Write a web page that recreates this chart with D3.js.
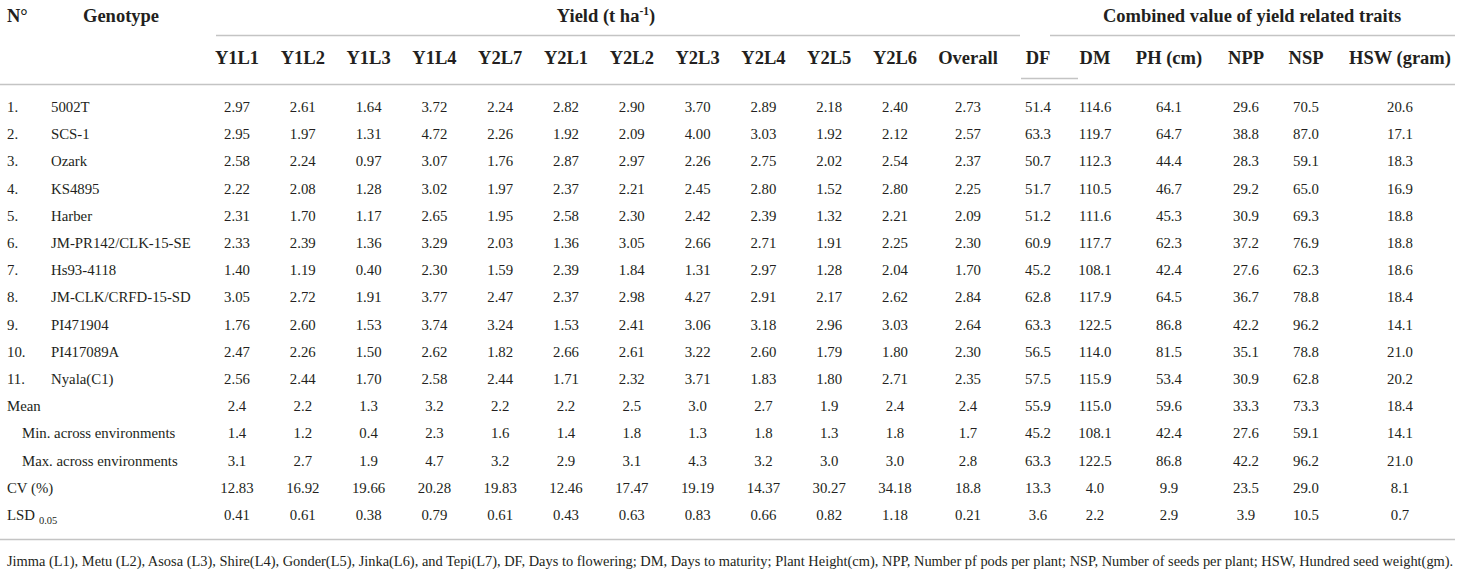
<!DOCTYPE html>
<html>
<head>
<meta charset="utf-8">
<script src="https://cdn.jsdelivr.net/npm/d3@7"></script>
<style>
  body { margin: 0; background: #fff; }
  svg text { font-family: "Liberation Serif", "Times New Roman", serif; fill: #231f20; }
</style>
</head>
<body>
<svg id="table"></svg>
<script>
// column headers
var yieldCols = ["Y1L1", "Y1L2", "Y1L3", "Y1L4", "Y2L7", "Y2L1", "Y2L2", "Y2L3", "Y2L4", "Y2L5", "Y2L6", "Overall"];
var traitCols = ["DF", "DM", "PH (cm)", "NPP", "NSP", "HSW (gram)"];

// genotypes
var genotypes = ["5002T", "SCS-1", "Ozark", "KS4895", "Harber", "JM-PR142/CLK-15-SE", "Hs93-4118",
  "JM-CLK/CRFD-15-SD", "PI471904", "PI417089A", "Nyala(C1)"];

// yield (t/ha) per genotype, kept as printed
var yieldValues = [
  ["2.97", "2.61", "1.64", "3.72", "2.24", "2.82", "2.90", "3.70", "2.89", "2.18", "2.40", "2.73"],
  ["2.95", "1.97", "1.31", "4.72", "2.26", "1.92", "2.09", "4.00", "3.03", "1.92", "2.12", "2.57"],
  ["2.58", "2.24", "0.97", "3.07", "1.76", "2.87", "2.97", "2.26", "2.75", "2.02", "2.54", "2.37"],
  ["2.22", "2.08", "1.28", "3.02", "1.97", "2.37", "2.21", "2.45", "2.80", "1.52", "2.80", "2.25"],
  ["2.31", "1.70", "1.17", "2.65", "1.95", "2.58", "2.30", "2.42", "2.39", "1.32", "2.21", "2.09"],
  ["2.33", "2.39", "1.36", "3.29", "2.03", "1.36", "3.05", "2.66", "2.71", "1.91", "2.25", "2.30"],
  ["1.40", "1.19", "0.40", "2.30", "1.59", "2.39", "1.84", "1.31", "2.97", "1.28", "2.04", "1.70"],
  ["3.05", "2.72", "1.91", "3.77", "2.47", "2.37", "2.98", "4.27", "2.91", "2.17", "2.62", "2.84"],
  ["1.76", "2.60", "1.53", "3.74", "3.24", "1.53", "2.41", "3.06", "3.18", "2.96", "3.03", "2.64"],
  ["2.47", "2.26", "1.50", "2.62", "1.82", "2.66", "2.61", "3.22", "2.60", "1.79", "1.80", "2.30"],
  ["2.56", "2.44", "1.70", "2.58", "2.44", "1.71", "2.32", "3.71", "1.83", "1.80", "2.71", "2.35"]
];

// yield related traits per genotype
var traitValues = [
  ["51.4", "114.6", "64.1", "29.6", "70.5", "20.6"],
  ["63.3", "119.7", "64.7", "38.8", "87.0", "17.1"],
  ["50.7", "112.3", "44.4", "28.3", "59.1", "18.3"],
  ["51.7", "110.5", "46.7", "29.2", "65.0", "16.9"],
  ["51.2", "111.6", "45.3", "30.9", "69.3", "18.8"],
  ["60.9", "117.7", "62.3", "37.2", "76.9", "18.8"],
  ["45.2", "108.1", "42.4", "27.6", "62.3", "18.6"],
  ["62.8", "117.9", "64.5", "36.7", "78.8", "18.4"],
  ["63.3", "122.5", "86.8", "42.2", "96.2", "14.1"],
  ["56.5", "114.0", "81.5", "35.1", "78.8", "21.0"],
  ["57.5", "115.9", "53.4", "30.9", "62.8", "20.2"]
];

// summary rows
var summaryLabels = ["Mean", "Min. across environments", "Max. across environments", "CV (%)", "LSD"];
var summaryYield = [
  ["2.4", "2.2", "1.3", "3.2", "2.2", "2.2", "2.5", "3.0", "2.7", "1.9", "2.4", "2.4"],
  ["1.4", "1.2", "0.4", "2.3", "1.6", "1.4", "1.8", "1.3", "1.8", "1.3", "1.8", "1.7"],
  ["3.1", "2.7", "1.9", "4.7", "3.2", "2.9", "3.1", "4.3", "3.2", "3.0", "3.0", "2.8"],
  ["12.83", "16.92", "19.66", "20.28", "19.83", "12.46", "17.47", "19.19", "14.37", "30.27", "34.18", "18.8"],
  ["0.41", "0.61", "0.38", "0.79", "0.61", "0.43", "0.63", "0.83", "0.66", "0.82", "1.18", "0.21"]
];
var summaryTraits = [
  ["55.9", "115.0", "59.6", "33.3", "73.3", "18.4"],
  ["45.2", "108.1", "42.4", "27.6", "59.1", "14.1"],
  ["63.3", "122.5", "86.8", "42.2", "96.2", "21.0"],
  ["13.3", "4.0", "9.9", "23.5", "29.0", "8.1"],
  ["3.6", "2.2", "2.9", "3.9", "10.5", "0.7"]
];

var footnote = "Jimma (L1), Metu (L2), Asosa (L3), Shire(L4), Gonder(L5), Jinka(L6), and Tepi(L7), DF, Days to flowering; DM, Days to maturity; Plant Height(cm), NPP, Number pf pods per plant; NSP, Number of seeds per plant; HSW, Hundred seed weight(gm).";

var width = 1460, height = 569;
var svg = d3.select("#table").attr("width", width).attr("height", height);

// layout
var lineColor = "#c4c4c4";
var bodySize = 14.8, headSize = 18.5;

var xLoc = d3.scalePoint().domain(yieldCols.slice(0, 11)).range([237, 895]);
var xOther = d3.scaleOrdinal()
  .domain(["Overall"].concat(traitCols))
  .range([968, 1038, 1095, 1169, 1246, 1306, 1400]);
function colX(c) { return xLoc.domain().includes(c) ? xLoc(c) : xOther(c); }
var allCols = yieldCols.concat(traitCols);

// one row per genotype, then summary rows
var rows = genotypes.map(function(g, i) {
  return { num: (i + 1) + ".", label: g, values: yieldValues[i].concat(traitValues[i]), indent: 0 };
});
summaryLabels.forEach(function(l, i) {
  rows.push({ num: "", label: l, values: summaryYield[i].concat(summaryTraits[i]), indent: (i == 1 || i == 2) ? 1 : 0, summary: true });
});

var y = d3.scaleLinear().domain([0, rows.length - 1]).range([107, 515]);

// header row 1
var head = svg.append("g").style("font-weight", "bold").style("font-size", headSize + "px");
head.append("text").attr("x", 7).attr("y", 22).text("N°");
head.append("text").attr("x", 83).attr("y", 22).text("Genotype");
var yt = head.append("text").attr("x", 606).attr("y", 22).attr("text-anchor", "middle");
yt.append("tspan").text("Yield (t ha");
yt.append("tspan").attr("dy", -7).style("font-size", "11.5px").text("-1");
yt.append("tspan").attr("dy", 7).text(")");
head.append("text").attr("x", 1252).attr("y", 22).attr("text-anchor", "middle")
  .text("Combined value of yield related traits");

// header row 2
head.selectAll(".colhead")
  .data(allCols)
  .enter()
  .append("text")
  .attr("class", "colhead")
  .attr("x", function(d) { return colX(d); })
  .attr("y", 64)
  .attr("text-anchor", "middle")
  .text(function(d) { return d; });

// rules
var rules = [
  [216, 1020, 35], [1050, 1455, 35], [1021, 1078, 78], [0, 1455, 84], [0, 1455, 539]
];
svg.append("g").selectAll("line")
  .data(rules)
  .enter()
  .append("line")
  .attr("x1", d => d[0]).attr("x2", d => d[1])
  .attr("y1", d => d[2] + 0.5).attr("y2", d => d[2] + 0.5)
  .attr("stroke", lineColor)
  .attr("stroke-width", 1.3);

// body
var body = svg.append("g").style("font-size", bodySize + "px");
var rowG = body.selectAll(".row")
  .data(rows)
  .enter()
  .append("g")
  .attr("class", "row")
  .attr("transform", function(d, i) { return "translate(0," + (y(i) + 5) + ")"; });

rowG.append("text").attr("x", 7).text(d => d.num);
var lab = rowG.append("text")
  .attr("x", function(d) { return d.summary ? (d.indent ? 22 : 7) : 51; })
  .text(d => d.label);
lab.filter(d => d.label == "LSD")
  .append("tspan").attr("dx", 4).attr("dy", 4).style("font-size", "10.5px").text("0.05");

rowG.selectAll(".val")
  .data(function(d) { return d.values.map(function(v, j) { return { col: allCols[j], v: v }; }); })
  .enter()
  .append("text")
  .attr("class", "val")
  .attr("x", d => colX(d.col))
  .attr("text-anchor", "middle")
  .text(d => d.v);

// footnote, fitted to the table width
var fn = svg.append("text").attr("x", 7).attr("y", 566).style("font-size", "13px").text(footnote);
var fw = fn.node().getComputedTextLength();
fn.style("font-size", (13 * 1448 / fw) + "px");
</script>
</body>
</html>
